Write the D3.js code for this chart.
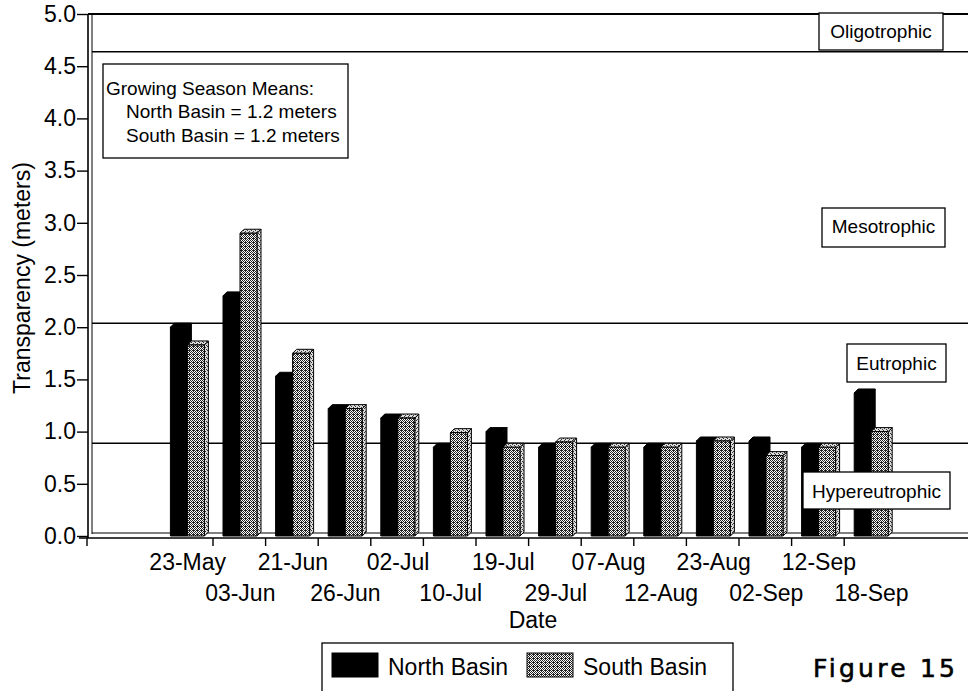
<!DOCTYPE html>
<html>
<head>
<meta charset="utf-8">
<script src="https://cdn.jsdelivr.net/npm/d3@7"></script>
<style>
  html, body { margin: 0; padding: 0; background: #fff; }
  svg { display: block; font-family: "Liberation Sans", Arial, sans-serif; }
</style>
</head>
<body>
<svg id="chart" width="968" height="691"></svg>
<script>
// ---- data ----
const categories = ["23-May","03-Jun","21-Jun","26-Jun","02-Jul","10-Jul","19-Jul","29-Jul","07-Aug","12-Aug","23-Aug","02-Sep","12-Sep","18-Sep"];
const northBasin = [2.0, 2.3, 1.53, 1.22, 1.13, 0.85, 1.0, 0.85, 0.85, 0.85, 0.91, 0.91, 0.85, 1.37];
const southBasin = [1.83, 2.9, 1.75, 1.22, 1.13, 0.99, 0.85, 0.9, 0.85, 0.85, 0.91, 0.77, 0.85, 1.0];
const seriesNames = ["North Basin", "South Basin"];
const yTicks = [0, 0.5, 1.0, 1.5, 2.0, 2.5, 3.0, 3.5, 4.0, 4.5, 5.0];
const trophicLines = [4.6, 2.0, 0.85];
const trophicLabels = ["Oligotrophic", "Mesotrophic", "Eutrophic", "Hypereutrophic"];
const meansLines = ["Growing Season Means:", "North Basin = 1.2 meters", "South Basin = 1.2 meters"];

// ---- setup ----
const svg = d3.select("#chart");
const W = 968;
const depth = 4;

// dither pattern for South Basin
const defs = svg.append("defs");
const pat = defs.append("pattern").attr("id", "dither").attr("patternUnits", "userSpaceOnUse")
  .attr("width", 4).attr("height", 4);
pat.append("rect").attr("width", 4).attr("height", 4).attr("fill", "#fff");
const dots = [[0,0],[2,0],[1,1],[3,1],[0,2],[1,2],[2,2],[3,3],[1,3]];
dots.forEach(d => pat.append("rect").attr("x", d[0]).attr("y", d[1]).attr("width", 1).attr("height", 1).attr("fill", "#222"));
const pat2 = defs.append("pattern").attr("id", "dither2").attr("patternUnits", "userSpaceOnUse")
  .attr("width", 4).attr("height", 4);
pat2.append("rect").attr("width", 4).attr("height", 4).attr("fill", "#ddd");
[[0,0],[2,1],[1,3],[3,2]].forEach(d => pat2.append("rect").attr("x", d[0]).attr("y", d[1]).attr("width", 1).attr("height", 1).attr("fill", "#333"));

const x = d3.scaleBand().domain(categories).range([160.4, 896.8]).paddingInner(0).paddingOuter(0);
const y = d3.scaleLinear().domain([0, 5]).range([536, 14]);

const axisX0 = 88;
const floorY = 538;

// ---- back wall / frame ----
svg.append("line").attr("x1", axisX0).attr("x2", W).attr("y1", y(5)).attr("y2", y(5))
  .attr("stroke", "#000").attr("stroke-width", 2);
svg.append("line").attr("x1", axisX0 + depth).attr("x2", axisX0 + depth).attr("y1", y(5)).attr("y2", floorY - depth)
  .attr("stroke", "#000").attr("stroke-width", 1);
svg.append("line").attr("x1", axisX0 + depth).attr("x2", W).attr("y1", floorY - depth - 1).attr("y2", floorY - depth - 1)
  .attr("stroke", "#000").attr("stroke-width", 1);

// trophic threshold lines (on back wall)
svg.selectAll("line.troph").data(trophicLines).enter().append("line").attr("class", "troph")
  .attr("x1", axisX0 + depth).attr("x2", W)
  .attr("y1", d => y(d) - depth).attr("y2", d => y(d) - depth)
  .attr("stroke", "#000").attr("stroke-width", 1.6);

// ---- bars ----
const bw = 17;
function barPath(x0, v) {
  const yt = y(v), y0 = y(0);
  return {
    front: `M${x0},${y0}L${x0},${yt}L${x0 + bw},${yt}L${x0 + bw},${y0}Z`,
    top: `M${x0},${yt}L${x0 + depth},${yt - depth}L${x0 + bw + depth},${yt - depth}L${x0 + bw},${yt}Z`,
    side: `M${x0 + bw},${yt}L${x0 + bw + depth},${yt - depth}L${x0 + bw + depth},${y0 - depth}L${x0 + bw},${y0}Z`
  };
}
const gBars = svg.append("g");
categories.forEach((c, i) => {
  const bx = x(c);
  // North Basin (black)
  const pN = barPath(bx + 10, northBasin[i]);
  gBars.append("path").attr("d", pN.side).attr("fill", "#000").attr("stroke", "#000").attr("stroke-width", 1);
  gBars.append("path").attr("d", pN.top).attr("fill", "#000").attr("stroke", "#000").attr("stroke-width", 1);
  gBars.append("path").attr("d", pN.front).attr("fill", "#000").attr("stroke", "#000").attr("stroke-width", 1);
  // South Basin (dithered gray)
  const pS = barPath(bx + 27, southBasin[i]);
  gBars.append("path").attr("d", pS.side).attr("fill", "url(#dither2)").attr("stroke", "#000").attr("stroke-width", 1);
  gBars.append("path").attr("d", pS.top).attr("fill", "url(#dither2)").attr("stroke", "#000").attr("stroke-width", 1);
  gBars.append("path").attr("d", pS.front).attr("fill", "url(#dither)").attr("stroke", "#000").attr("stroke-width", 1);
});

// floor front edge / x axis line
svg.append("line").attr("x1", 79).attr("x2", W).attr("y1", floorY).attr("y2", floorY)
  .attr("stroke", "#000").attr("stroke-width", 1.6);
// front wall line (y axis)
svg.append("line").attr("x1", axisX0).attr("x2", axisX0).attr("y1", y(5)).attr("y2", floorY)
  .attr("stroke", "#000").attr("stroke-width", 1.6);

// ---- y axis ----
const yAxis = d3.axisLeft(y).tickValues(yTicks).tickFormat(d3.format(".1f")).tickSize(11).tickPadding(1);
const gy = svg.append("g").attr("transform", `translate(${axisX0},0)`).call(yAxis);
gy.select(".domain").remove();
gy.selectAll(".tick line").attr("stroke", "#000").attr("stroke-width", 1.4);
gy.selectAll(".tick text").attr("font-family", "Liberation Sans, Arial, sans-serif")
  .attr("font-size", 23).attr("fill", "#000");

svg.append("text").attr("transform", "translate(30,278) rotate(-90)")
  .attr("text-anchor", "middle").attr("font-size", 23).text("Transparency (meters)");

// ---- x axis ticks & labels ----
const boundaries = categories.slice(1).map(c => x(c));
svg.selectAll("line.xtick").data([axisX0 - 1].concat(boundaries)).enter().append("line").attr("class", "xtick")
  .attr("x1", d => d).attr("x2", d => d).attr("y1", floorY).attr("y2", floorY + 8)
  .attr("stroke", "#000").attr("stroke-width", 1.4);
svg.selectAll("text.xlab").data(categories).enter().append("text").attr("class", "xlab")
  .attr("x", d => x(d) + x.bandwidth() / 2 + 1)
  .attr("y", (d, i) => i % 2 === 0 ? 570 : 601)
  .attr("text-anchor", "middle").attr("font-size", 23).text(d => d);
svg.append("text").attr("x", 533).attr("y", 628).attr("text-anchor", "middle").attr("font-size", 23).text("Date");

// ---- Growing season means box ----
svg.append("rect").attr("x", 103).attr("y", 64).attr("width", 245).attr("height", 94)
  .attr("fill", "#fff").attr("stroke", "#000").attr("stroke-width", 1.3);
svg.selectAll("text.means").data(meansLines).enter().append("text").attr("class", "means")
  .attr("x", (d, i) => i === 0 ? 106 : 126)
  .attr("y", (d, i) => 95 + i * 23.4)
  .attr("font-size", 19).text(d => d);

// ---- trophic labels ----
const boxes = [
  {x: 819, y: 13, w: 124, h: 37, by: 38},
  {x: 822, y: 208, w: 123, h: 39, by: 233},
  {x: 847, y: 344, w: 99, h: 38, by: 370},
  {x: 803, y: 472, w: 147, h: 37, by: 498}
];
trophicLabels.forEach((t, i) => {
  const b = boxes[i];
  svg.append("rect").attr("x", b.x).attr("y", b.y).attr("width", b.w).attr("height", b.h)
    .attr("fill", "#fff").attr("stroke", "#000").attr("stroke-width", 1.3);
  svg.append("text").attr("x", b.x + b.w / 2).attr("y", b.by).attr("text-anchor", "middle")
    .attr("font-size", 19).text(t);
});

// ---- legend ----
svg.append("rect").attr("x", 322).attr("y", 643).attr("width", 411).attr("height", 60)
  .attr("fill", "#fff").attr("stroke", "#000").attr("stroke-width", 1.3);
const legendItems = [
  {sx: 332, tx: 388, fill: "#000"},
  {sx: 527, tx: 583, fill: "url(#dither)"}
];
seriesNames.forEach((s, i) => {
  const li = legendItems[i];
  svg.append("rect").attr("x", li.sx).attr("y", 653).attr("width", 46).attr("height", 24)
    .attr("fill", li.fill).attr("stroke", "#000").attr("stroke-width", 1);
  svg.append("text").attr("x", li.tx).attr("y", 675).attr("font-size", 23).text(s);
});

// ---- figure number ----
svg.append("text").attr("x", 813).attr("y", 677)
  .attr("font-family", "DejaVu Sans, sans-serif").attr("font-size", 25)
  .attr("stroke", "#000").attr("stroke-width", 0.6)
  .attr("textLength", 142).attr("lengthAdjust", "spacing").text("Figure 15");
</script>
</body>
</html>
